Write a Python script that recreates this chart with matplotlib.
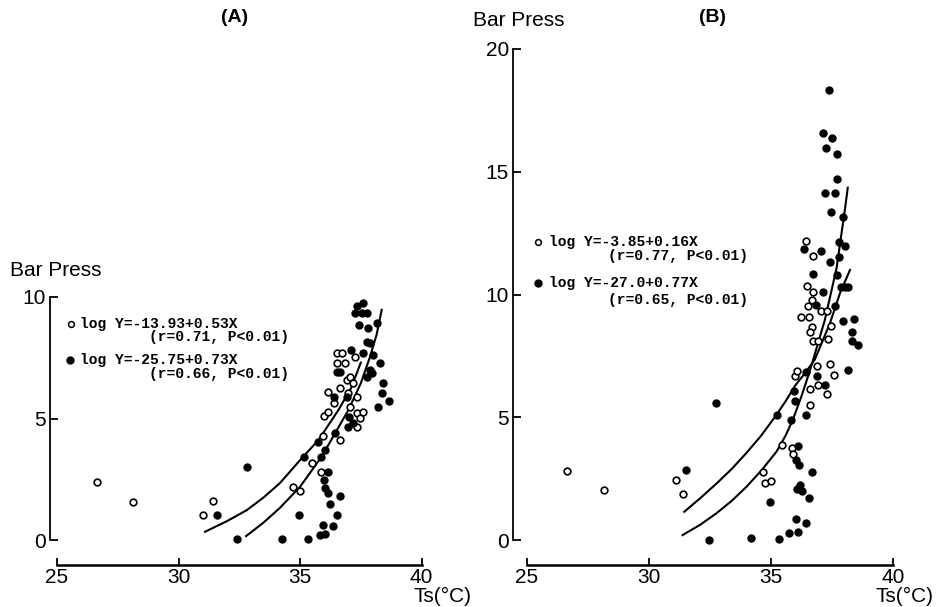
import matplotlib
matplotlib.use("Agg")
import matplotlib.pyplot as plt

# ---- panel A data (Ts in degC, bar presses) ----
a_open_x = [26.66, 28.14, 31.02, 31.41, 34.73, 35.0, 35.48, 35.86, 35.93, 35.99,
            36.17, 36.17, 36.41, 36.51, 36.71, 36.51, 36.85, 36.65, 36.95, 37.06,
            37.26, 37.19, 37.06, 36.65, 37.33, 37.47, 37.58, 37.33, 37.36, 36.99]
a_open_y = [2.37, 1.58, 1.03, 1.62, 2.17, 2.03, 3.16, 2.81, 4.29, 5.10,
            5.28, 6.10, 5.65, 7.71, 7.71, 7.30, 7.27, 6.27, 6.58, 6.72,
            7.54, 6.45, 5.49, 4.12, 5.21, 5.01, 5.28, 4.66, 5.90, 6.04]
a_fill_x = [32.83, 31.57, 32.42, 34.25, 34.96, 35.34, 35.16, 35.75, 35.86, 36.03,
            36.17, 35.99, 36.03, 36.17, 36.23, 36.65, 36.51, 35.93, 36.37, 35.82,
            36.03, 36.43, 36.39, 36.51, 36.65, 37.09, 36.92, 36.96, 37.16, 37.0,
            37.36, 37.61, 37.26, 37.54, 37.74, 37.44, 37.81, 38.16, 37.74, 37.88,
            38.02, 37.61, 37.88, 37.74, 37.95, 38.27, 38.40, 38.36, 38.68, 38.22]
a_fill_y = [2.99, 1.03, 0.03, 0.03, 1.03, 0.03, 3.43, 4.05, 3.43, 3.70,
            2.81, 2.47, 2.13, 1.92, 1.48, 1.82, 1.03, 0.62, 0.58, 0.21,
            0.25, 4.42, 5.90, 6.93, 6.93, 7.82, 5.90, 4.64, 4.83, 5.08,
            9.63, 9.74, 9.33, 9.33, 9.33, 8.85, 8.71, 8.92, 8.16, 8.09,
            7.61, 7.68, 7.00, 6.72, 6.86, 7.30, 6.47, 6.06, 5.73, 5.49]
a_curve_open_x = [31.09, 32.0, 32.81, 33.5, 34.18, 35.1, 35.75, 36.58, 37.1, 37.5]
a_curve_open_y = [0.34, 0.78, 1.23, 1.75, 2.35, 3.40, 4.10, 5.35, 6.25, 7.30]
a_curve_fill_x = [32.78, 33.5, 34.18, 35.0, 35.89, 36.44, 36.99, 37.5, 37.88, 38.15, 38.36]
a_curve_fill_y = [0.16, 0.72, 1.33, 2.19, 3.43, 4.39, 5.35, 6.45, 7.54, 8.45, 9.47]

# ---- panel B data ----
b_open_x = [26.63, 28.16, 31.09, 31.38, 34.69, 34.74, 34.99, 35.46, 35.85, 35.89,
            35.98, 36.08, 36.43, 36.71, 36.49, 36.73, 36.69, 36.50, 36.22, 36.57,
            36.67, 36.60, 36.73, 36.94, 37.04, 37.28, 37.35, 37.45, 36.90, 37.42,
            37.58, 36.60, 36.94, 37.31, 36.60]
b_open_y = [2.81, 2.05, 2.46, 1.86, 2.76, 2.31, 2.41, 3.89, 3.74, 3.51,
            6.68, 6.88, 12.16, 11.55, 10.35, 10.12, 9.77, 9.55, 9.09, 9.09,
            8.69, 8.49, 8.11, 8.11, 9.32, 9.32, 8.19, 8.72, 7.10, 7.16,
            6.71, 6.15, 6.30, 5.93, 5.51]
b_fill_x = [32.75, 31.50, 32.46, 34.17, 35.34, 35.75, 36.09, 36.01, 36.43, 34.96,
            36.56, 36.67, 36.05, 36.26, 36.19, 36.12, 36.02, 36.16, 35.23, 35.81,
            35.98, 35.94, 36.43, 36.43, 36.90, 37.21, 38.17, 38.40, 38.31, 38.31,
            38.58, 37.94, 36.84, 37.62, 37.14, 36.73, 37.04, 37.42, 36.37, 37.69,
            37.80, 37.80, 38.03, 37.94, 37.86, 38.03, 38.14, 37.21, 37.62, 37.45,
            37.72, 37.69, 37.25, 37.12, 37.49, 37.38]
b_fill_y = [5.60, 2.87, 0.02, 0.08, 0.05, 0.27, 0.32, 0.84, 0.69, 1.55,
            1.70, 2.76, 2.08, 2.01, 2.23, 3.82, 3.24, 3.06, 5.10, 4.90,
            5.66, 6.08, 5.10, 6.86, 6.68, 6.30, 6.91, 8.99, 8.46, 8.11,
            7.96, 8.94, 9.58, 9.52, 10.12, 10.83, 11.78, 11.33, 11.86, 10.80,
            11.51, 12.14, 11.96, 13.14, 10.30, 10.30, 10.30, 14.12, 14.12, 13.36,
            14.72, 15.73, 15.96, 16.56, 16.36, 18.34]
b_curve_open_x = [31.45, 32.1, 32.77, 33.4, 34.0, 34.6, 35.23, 35.6, 36.0, 36.4, 36.8, 37.42, 37.83, 38.24]
b_curve_open_y = [1.15, 1.70, 2.30, 2.90, 3.55, 4.25, 5.10, 5.65, 6.30, 6.80, 7.35, 8.83, 10.05, 11.0]
b_curve_fill_x = [31.38, 32.1, 32.77, 33.4, 34.0, 34.6, 35.23, 35.6, 35.9, 36.25, 36.6, 37.21, 37.69, 38.03, 38.15]
b_curve_fill_y = [0.20, 0.62, 1.09, 1.60, 2.17, 2.82, 3.60, 4.25, 4.90, 5.85, 6.90, 8.96, 11.07, 13.44, 14.35]

W, H = 951, 607
fig = plt.figure(figsize=(W / 100, H / 100), dpi=100)


def px_rect(x0, y_top, x1, y_bot):
    return [x0 / W, 1 - y_bot / H, (x1 - x0) / W, (y_bot - y_top) / H]


def setup(ax, ymax_tick, yticks):
    for s in ["top", "right"]:
        ax.spines[s].set_visible(False)
    ax.spines["left"].set_bounds(0, ymax_tick)
    ax.spines["bottom"].set_bounds(25, 40)
    ax.spines["left"].set_linewidth(1.3)
    ax.spines["bottom"].set_linewidth(1.8)
    ax.set_yticks(yticks)
    ax.set_xticks([25, 30, 35, 40])
    ax.tick_params(axis="y", direction="in", length=6, width=1.3, pad=3, labelsize=15)
    ax.tick_params(axis="x", direction="in", length=5, width=1.3, pad=2, labelsize=15)
    for lab in ax.get_xticklabels() + ax.get_yticklabels():
        lab.set_family("Liberation Sans")


mono = dict(family="Liberation Mono", fontweight="bold", fontsize=10.5, va="center")

# panel A: y spine at px 50, x axis line at px 565
axA = fig.add_axes(px_rect(50, 290, 430, 565))
axA.set_xlim(24.71, 24.71 + 380 / 24.3)
axA.set_ylim(-25 / 24.3, 250 / 24.3)
setup(axA, 10, [0, 5, 10])
axA.plot(a_curve_open_x, a_curve_open_y, color="black", lw=1.5)
axA.plot(a_curve_fill_x, a_curve_fill_y, color="black", lw=1.5)
axA.plot(a_open_x, a_open_y, "o", ms=4.8, mfc="white", mec="black", mew=1.2, ls="none")
axA.plot(a_fill_x, a_fill_y, "o", ms=5, color="black", ls="none")
axA.plot([25.58], [8.89], "o", ms=4.2, mfc="white", mec="black", mew=1.1)
axA.plot([25.52], [7.41], "o", ms=5, color="black")
axA.text(25.94, 8.89, "log Y=-13.93+0.53X", **mono)
axA.text(28.80, 8.35, "(r=0.71, P<0.01)", **mono)
axA.text(25.94, 7.41, "log Y=-25.75+0.73X", **mono)
axA.text(28.80, 6.83, "(r=0.66, P<0.01)", **mono)

# panel B: y spine at px 513
axB = fig.add_axes(px_rect(513, 44, 900, 565))
axB.set_xlim(24.43, 24.43 + 387 / 24.4)
axB.set_ylim(-25 / 24.55, 496 / 24.55)
setup(axB, 20, [0, 5, 10, 15, 20])
axB.plot(b_curve_open_x, b_curve_open_y, color="black", lw=1.5)
axB.plot(b_curve_fill_x, b_curve_fill_y, color="black", lw=1.5)
axB.plot(b_open_x, b_open_y, "o", ms=4.8, mfc="white", mec="black", mew=1.2, ls="none")
axB.plot(b_fill_x, b_fill_y, "o", ms=5, color="black", ls="none")
axB.plot([25.45], [12.15], "o", ms=4.2, mfc="white", mec="black", mew=1.1)
axB.plot([25.45], [10.45], "o", ms=5, color="black")
axB.text(25.91, 12.15, "log Y=-3.85+0.16X", **mono)
axB.text(28.32, 11.55, "(r=0.77, P<0.01)", **mono)
axB.text(25.91, 10.45, "log Y=-27.0+0.77X", **mono)
axB.text(28.32, 9.78, "(r=0.65, P<0.01)", **mono)

sans = dict(family="Liberation Sans", fontsize=15)
fig.text(10 / W, 1 - 271 / H, "Bar Press", ha="left", va="center", **sans)
fig.text(473 / W, 1 - 20 / H, "Bar Press", ha="left", va="center", **sans)
fig.text(472 / W, 1 - 596 / H, "Ts(°C)", ha="right", va="center", **sans)
fig.text(934 / W, 1 - 596 / H, "Ts(°C)", ha="right", va="center", **sans)
fig.text(235 / W, 1 - 18 / H, "(A)", ha="center", va="center", family="Liberation Sans",
         fontsize=14, fontweight="bold")
fig.text(712 / W, 1 - 18 / H, "(B)", ha="center", va="center", family="Liberation Sans",
         fontsize=14, fontweight="bold")

fig.savefig("out.png", dpi=100)
